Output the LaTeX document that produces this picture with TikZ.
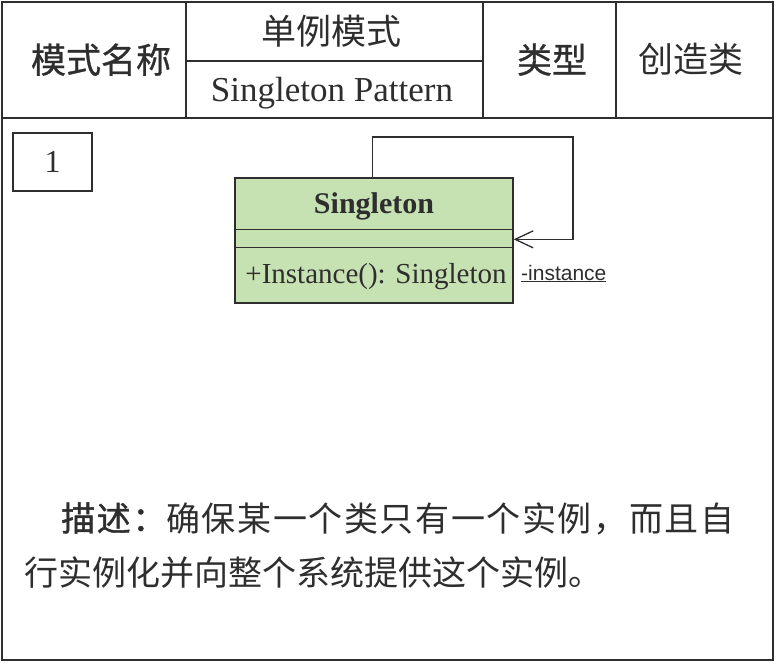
\documentclass[tikz,border=0pt]{standalone}
\usepackage{fontspec}
\setmainfont{Liberation Serif}
\newfontfamily\cjk{Noto Sans CJK SC}
\newfontfamily\cjkb{Noto Sans CJK SC}[FakeBold=0.8]
\newfontfamily\cjkls{Noto Sans CJK SC}[LetterSpace=4.7]
\newfontfamily\cjkbls{Noto Sans CJK SC}[FakeBold=1.2,LetterSpace=4.7]
\newfontfamily\arialf{Liberation Sans}
\usetikzlibrary{arrows.meta}
\definecolor{ink}{HTML}{2E2E2E}
\definecolor{umlgreen}{HTML}{C6E2B3}
\begin{document}
\begin{tikzpicture}[x=1pt,y=-1pt,
  frame/.style={draw=ink,line width=1.9pt},
  umlline/.style={draw=ink,line width=1.3pt},
  cjktext/.style={inner sep=0pt,anchor=base,font=\cjk\fontsize{35}{40}\selectfont,text=ink},
  cjkbold/.style={inner sep=0pt,anchor=base,font=\cjkb\fontsize{35}{40}\selectfont,text=ink},
  desc/.style={inner sep=0pt,anchor=base west,text=ink}]
\useasboundingbox (0,0) rectangle (776,663);
\fill[white] (0,0) rectangle (776,663);
% table frame
\draw[frame] (2,2) rectangle (773,660);
\draw[frame] (2,118) -- (773,118);
\draw[frame] (186,2) -- (186,118);
\draw[frame] (483,2) -- (483,118);
\draw[frame] (616,2) -- (616,118);
\draw[frame] (186,61) -- (483,61);
% header texts
\node[cjkbold] (name) at (101,73) {模式名称};
\node[cjktext] (cn) at (331,45) {单例模式};
\node[inner sep=0pt,anchor=base,font=\fontsize{35}{40}\selectfont,text=ink] (en) at (332,102) {Singleton Pattern};
\node[cjkbold] (type) at (552,73) {类型};
\node[cjktext] (typev) at (691,73) {创造类};
% number box
\node[draw=ink,line width=1.3pt,minimum width=79pt,minimum height=58pt,inner sep=0pt,
      font=\fontsize{32}{36}\selectfont,text=ink] (num) at (52.5,162) {1};
% UML class
\node[draw=ink,line width=1.3pt,fill=umlgreen,minimum width=278pt,minimum height=125pt,inner sep=0pt] (cls) at (374,240.5) {};
\draw[umlline] ([yshift=-52pt]cls.north west) -- ([yshift=-52pt]cls.north east);
\draw[umlline] ([yshift=-70pt]cls.north west) -- ([yshift=-70pt]cls.north east);
\node[inner sep=0pt,anchor=base,font=\bfseries\fontsize{30}{34}\selectfont,text=ink] (clsname) at (374,213) {Singleton};
\node[inner sep=0pt,anchor=base,font=\fontsize{29}{33}\selectfont,text=ink] (op) at (376,283) {+Instance(): Singleton};
\coordinate (loopc) at (573,137);
\draw[umlline,-{Straight Barb[length=18pt,width=17pt,line width=1.3pt]}]
  ([xshift=138pt]cls.north west) |- (loopc) |- ([yshift=-62pt]cls.north east);
\node[inner sep=0pt,anchor=base west,font=\arialf\fontsize{21}{24}\selectfont,text=ink] (inst) at (521,280) {\underline{-instance}};
% description
\node[desc,font=\fontsize{34}{40}\selectfont] (d1) at (61,531) {{\cjkbls 描述：}{\cjkls 确保某一个类只有一个实例，而且自}};
\node[desc,font=\cjk\fontsize{34}{40}\selectfont] (d2) at (24,585) {行实例化并向整个系统提供这个实例。};
\end{tikzpicture}
\end{document}
